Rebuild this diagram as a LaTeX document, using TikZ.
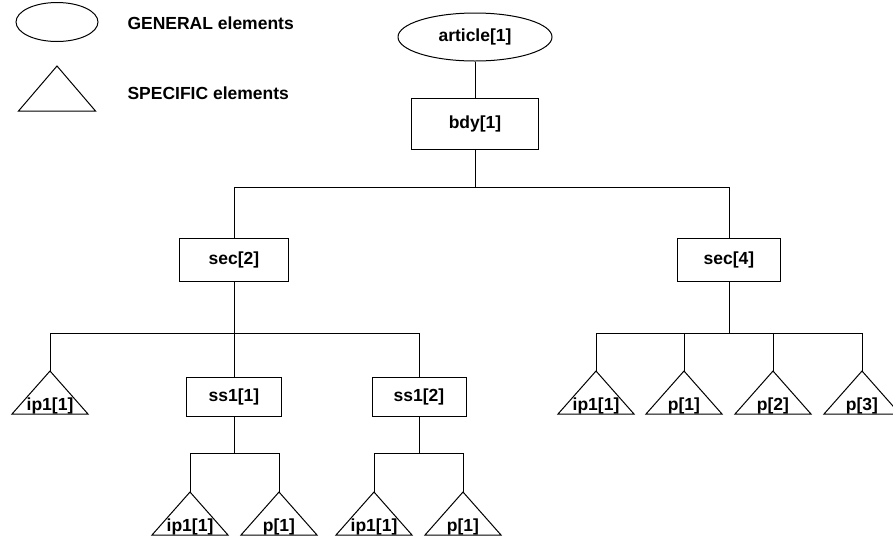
\documentclass[tikz,border=0pt]{standalone}
\usepackage{fontspec}
\setmainfont{Liberation Sans}
\usetikzlibrary{shapes.geometric}

\begin{document}
\begin{tikzpicture}[x=1pt,y=-1pt,line width=1pt,
  every node/.style={font=\bfseries\fontsize{17.5}{20}\selectfont},
  general/.style={draw,ellipse,inner sep=0},
  box/.style={draw,rectangle,inner sep=0},
  leaf/.style={anchor=base,inner sep=0}]
\useasboundingbox (0,0) rectangle (893,539);

% legend
\node[general,minimum width=82,minimum height=39] (legell) at (57,22) {};
\draw (57,66) -- (95.5,111) -- (18.5,111) -- cycle;
\node[anchor=west,inner sep=0] (genlab) at (127,23) {GENERAL elements};
\node[anchor=west,inner sep=0] (speclab) at (127,93) {SPECIFIC elements};

% upper part of the tree
\node[general,minimum width=154,minimum height=48] (article) at (475,37) {article[1]};
\node[box,minimum width=127,minimum height=51] (bdy) at (475,124) {bdy[1]};
\node[box,minimum width=109,minimum height=43] (sec2) at (234,260) {sec[2]};
\node[box,minimum width=103,minimum height=43] (sec4) at (729,260) {sec[4]};
\node[box,minimum width=95,minimum height=39] (ss11) at (234,397) {ss1[1]};
\node[box,minimum width=94,minimum height=39] (ss12) at (419,397) {ss1[2]};

% branching points
\coordinate (bar1) at (475,187);
\coordinate (bar2) at (234,333);
\coordinate (bar4) at (729,333);
\coordinate (bar11) at (234,453);
\coordinate (bar12) at (419,453);

% specific elements
\foreach \n/\x/\y/\lab in {ip1a/50/371/ip1[1], ip1b/190/492/ip1[1], pb/279/492/p[1],
    ip1c/374/492/ip1[1], pc/463/492/p[1], ip1d/596/371/ip1[1],
    p1d/684/371/p[1], p2d/773/371/p[2], p3d/862/371/p[3]}{
  \draw (\x,\y) -- ++(38,43) -- ++(-76,0) -- cycle;
  \coordinate (\n) at (\x,\y);
  \node[leaf] (\n-lab) at (\x,\y+39) {\lab};
}

% connectors
\draw (article) -- (bdy);
\draw (bdy) -- (bar1);
\draw (bar1) -| (sec2.north);
\draw (bar1) -| (sec4.north);

\draw (sec2) -- (bar2);
\draw (bar2) -| (ip1a);
\draw (bar2) -- (ss11);
\draw (bar2) -| (ss12.north);

\draw (ss11) -- (bar11);
\draw (bar11) -| (ip1b);
\draw (bar11) -| (pb);

\draw (ss12) -- (bar12);
\draw (bar12) -| (ip1c);
\draw (bar12) -| (pc);

\draw (sec4) -- (bar4);
\draw (bar4) -| (ip1d);
\draw (bar4) -| (p1d);
\draw (bar4) -| (p2d);
\draw (bar4) -| (p3d);

\end{tikzpicture}
\end{document}
